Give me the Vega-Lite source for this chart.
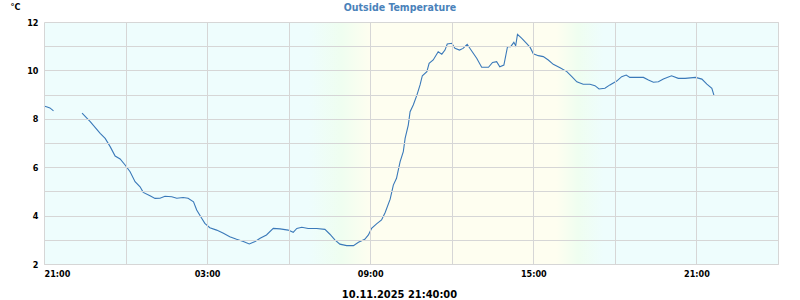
{
  "$schema": "https://vega.github.io/schema/vega-lite/v6.json",
  "autosize": "none",
  "width": 734,
  "height": 242,
  "padding": {"left": 44, "top": 22, "right": 22, "bottom": 36},
  "background": "white",
  "title": {
    "text": "Outside Temperature",
    "color": "#4a82ba",
    "font": "DejaVu Sans Condensed",
    "fontSize": 10.5,
    "fontWeight": "bold",
    "anchor": "middle",
    "offset": 9,
    "dx": -11,
    "dy": 20
  },
  "config": {
    "view": {"stroke": "#d6d6d6", "strokeWidth": 1},
    "axis": {
      "labelFont": "DejaVu Sans Condensed",
      "labelFontWeight": "bold",
      "labelFontSize": 9,
      "labelColor": "#000000",
      "titleFont": "DejaVu Sans Condensed",
      "titleFontWeight": "bold",
      "titleColor": "#000000",
      "gridColor": "#d6d6d6",
      "gridWidth": 1,
      "gridOpacity": 1,
      "domain": false,
      "ticks": false
    }
  },
  "datasets": {
    "span": [
      {"start": "2025-11-09T21:00:00Z", "end": "2025-11-11T00:00:00Z"}
    ],
    "temps": [
      {"t": "2025-11-09T21:00:00Z", "temp": 8.53, "seg": "a"},
      {"t": "2025-11-09T21:07:00Z", "temp": 8.49, "seg": "a"},
      {"t": "2025-11-09T21:13:00Z", "temp": 8.45, "seg": "a"},
      {"t": "2025-11-09T21:21:00Z", "temp": 8.33, "seg": "a"},
      {"t": "2025-11-09T22:24:00Z", "temp": 8.23, "seg": "b"},
      {"t": "2025-11-09T22:42:00Z", "temp": 7.88, "seg": "b"},
      {"t": "2025-11-09T23:04:00Z", "temp": 7.40, "seg": "b"},
      {"t": "2025-11-09T23:15:00Z", "temp": 7.19, "seg": "b"},
      {"t": "2025-11-09T23:26:00Z", "temp": 6.85, "seg": "b"},
      {"t": "2025-11-09T23:37:00Z", "temp": 6.46, "seg": "b"},
      {"t": "2025-11-09T23:48:00Z", "temp": 6.34, "seg": "b"},
      {"t": "2025-11-09T23:59:00Z", "temp": 6.09, "seg": "b"},
      {"t": "2025-11-10T00:10:00Z", "temp": 5.81, "seg": "b"},
      {"t": "2025-11-10T00:21:00Z", "temp": 5.40, "seg": "b"},
      {"t": "2025-11-10T00:32:00Z", "temp": 5.19, "seg": "b"},
      {"t": "2025-11-10T00:39:00Z", "temp": 4.96, "seg": "b"},
      {"t": "2025-11-10T00:54:00Z", "temp": 4.82, "seg": "b"},
      {"t": "2025-11-10T01:05:00Z", "temp": 4.71, "seg": "b"},
      {"t": "2025-11-10T01:16:00Z", "temp": 4.72, "seg": "b"},
      {"t": "2025-11-10T01:27:00Z", "temp": 4.80, "seg": "b"},
      {"t": "2025-11-10T01:42:00Z", "temp": 4.78, "seg": "b"},
      {"t": "2025-11-10T01:53:00Z", "temp": 4.72, "seg": "b"},
      {"t": "2025-11-10T02:07:00Z", "temp": 4.75, "seg": "b"},
      {"t": "2025-11-10T02:18:00Z", "temp": 4.72, "seg": "b"},
      {"t": "2025-11-10T02:30:00Z", "temp": 4.57, "seg": "b"},
      {"t": "2025-11-10T02:37:00Z", "temp": 4.23, "seg": "b"},
      {"t": "2025-11-10T02:48:00Z", "temp": 3.89, "seg": "b"},
      {"t": "2025-11-10T02:55:00Z", "temp": 3.68, "seg": "b"},
      {"t": "2025-11-10T03:06:00Z", "temp": 3.50, "seg": "b"},
      {"t": "2025-11-10T03:21:00Z", "temp": 3.40, "seg": "b"},
      {"t": "2025-11-10T03:36:00Z", "temp": 3.27, "seg": "b"},
      {"t": "2025-11-10T03:50:00Z", "temp": 3.13, "seg": "b"},
      {"t": "2025-11-10T04:05:00Z", "temp": 3.02, "seg": "b"},
      {"t": "2025-11-10T04:20:00Z", "temp": 2.93, "seg": "b"},
      {"t": "2025-11-10T04:33:00Z", "temp": 2.83, "seg": "b"},
      {"t": "2025-11-10T04:46:00Z", "temp": 2.93, "seg": "b"},
      {"t": "2025-11-10T04:57:00Z", "temp": 3.06, "seg": "b"},
      {"t": "2025-11-10T05:11:00Z", "temp": 3.20, "seg": "b"},
      {"t": "2025-11-10T05:26:00Z", "temp": 3.47, "seg": "b"},
      {"t": "2025-11-10T05:41:00Z", "temp": 3.45, "seg": "b"},
      {"t": "2025-11-10T05:59:00Z", "temp": 3.40, "seg": "b"},
      {"t": "2025-11-10T06:10:00Z", "temp": 3.31, "seg": "b"},
      {"t": "2025-11-10T06:18:00Z", "temp": 3.47, "seg": "b"},
      {"t": "2025-11-10T06:29:00Z", "temp": 3.52, "seg": "b"},
      {"t": "2025-11-10T06:43:00Z", "temp": 3.47, "seg": "b"},
      {"t": "2025-11-10T07:02:00Z", "temp": 3.47, "seg": "b"},
      {"t": "2025-11-10T07:20:00Z", "temp": 3.43, "seg": "b"},
      {"t": "2025-11-10T07:31:00Z", "temp": 3.23, "seg": "b"},
      {"t": "2025-11-10T07:42:00Z", "temp": 3.00, "seg": "b"},
      {"t": "2025-11-10T07:53:00Z", "temp": 2.82, "seg": "b"},
      {"t": "2025-11-10T08:08:00Z", "temp": 2.76, "seg": "b"},
      {"t": "2025-11-10T08:23:00Z", "temp": 2.76, "seg": "b"},
      {"t": "2025-11-10T08:34:00Z", "temp": 2.90, "seg": "b"},
      {"t": "2025-11-10T08:48:00Z", "temp": 3.02, "seg": "b"},
      {"t": "2025-11-10T08:56:00Z", "temp": 3.20, "seg": "b"},
      {"t": "2025-11-10T09:03:00Z", "temp": 3.47, "seg": "b"},
      {"t": "2025-11-10T09:14:00Z", "temp": 3.66, "seg": "b"},
      {"t": "2025-11-10T09:25:00Z", "temp": 3.82, "seg": "b"},
      {"t": "2025-11-10T09:33:00Z", "temp": 4.13, "seg": "b"},
      {"t": "2025-11-10T09:44:00Z", "temp": 4.68, "seg": "b"},
      {"t": "2025-11-10T09:51:00Z", "temp": 5.26, "seg": "b"},
      {"t": "2025-11-10T09:58:00Z", "temp": 5.54, "seg": "b"},
      {"t": "2025-11-10T10:06:00Z", "temp": 6.23, "seg": "b"},
      {"t": "2025-11-10T10:13:00Z", "temp": 6.64, "seg": "b"},
      {"t": "2025-11-10T10:17:00Z", "temp": 7.19, "seg": "b"},
      {"t": "2025-11-10T10:24:00Z", "temp": 7.74, "seg": "b"},
      {"t": "2025-11-10T10:28:00Z", "temp": 8.29, "seg": "b"},
      {"t": "2025-11-10T10:35:00Z", "temp": 8.57, "seg": "b"},
      {"t": "2025-11-10T10:43:00Z", "temp": 8.98, "seg": "b"},
      {"t": "2025-11-10T10:50:00Z", "temp": 9.40, "seg": "b"},
      {"t": "2025-11-10T10:55:00Z", "temp": 9.78, "seg": "b"},
      {"t": "2025-11-10T11:05:00Z", "temp": 9.95, "seg": "b"},
      {"t": "2025-11-10T11:10:00Z", "temp": 10.29, "seg": "b"},
      {"t": "2025-11-10T11:19:00Z", "temp": 10.43, "seg": "b"},
      {"t": "2025-11-10T11:30:00Z", "temp": 10.77, "seg": "b"},
      {"t": "2025-11-10T11:38:00Z", "temp": 10.67, "seg": "b"},
      {"t": "2025-11-10T11:45:00Z", "temp": 10.84, "seg": "b"},
      {"t": "2025-11-10T11:50:00Z", "temp": 11.09, "seg": "b"},
      {"t": "2025-11-10T12:00:00Z", "temp": 11.12, "seg": "b"},
      {"t": "2025-11-10T12:07:00Z", "temp": 10.91, "seg": "b"},
      {"t": "2025-11-10T12:17:00Z", "temp": 10.84, "seg": "b"},
      {"t": "2025-11-10T12:25:00Z", "temp": 10.91, "seg": "b"},
      {"t": "2025-11-10T12:34:00Z", "temp": 11.08, "seg": "b"},
      {"t": "2025-11-10T12:44:00Z", "temp": 10.80, "seg": "b"},
      {"t": "2025-11-10T12:55:00Z", "temp": 10.50, "seg": "b"},
      {"t": "2025-11-10T13:06:00Z", "temp": 10.13, "seg": "b"},
      {"t": "2025-11-10T13:21:00Z", "temp": 10.13, "seg": "b"},
      {"t": "2025-11-10T13:30:00Z", "temp": 10.33, "seg": "b"},
      {"t": "2025-11-10T13:39:00Z", "temp": 10.36, "seg": "b"},
      {"t": "2025-11-10T13:46:00Z", "temp": 10.15, "seg": "b"},
      {"t": "2025-11-10T13:55:00Z", "temp": 10.22, "seg": "b"},
      {"t": "2025-11-10T14:03:00Z", "temp": 10.98, "seg": "b"},
      {"t": "2025-11-10T14:10:00Z", "temp": 10.98, "seg": "b"},
      {"t": "2025-11-10T14:17:00Z", "temp": 11.16, "seg": "b"},
      {"t": "2025-11-10T14:21:00Z", "temp": 11.02, "seg": "b"},
      {"t": "2025-11-10T14:25:00Z", "temp": 11.49, "seg": "b"},
      {"t": "2025-11-10T14:34:00Z", "temp": 11.33, "seg": "b"},
      {"t": "2025-11-10T14:45:00Z", "temp": 11.12, "seg": "b"},
      {"t": "2025-11-10T14:53:00Z", "temp": 10.95, "seg": "b"},
      {"t": "2025-11-10T15:00:00Z", "temp": 10.69, "seg": "b"},
      {"t": "2025-11-10T15:11:00Z", "temp": 10.61, "seg": "b"},
      {"t": "2025-11-10T15:22:00Z", "temp": 10.57, "seg": "b"},
      {"t": "2025-11-10T15:33:00Z", "temp": 10.43, "seg": "b"},
      {"t": "2025-11-10T15:44:00Z", "temp": 10.25, "seg": "b"},
      {"t": "2025-11-10T15:59:00Z", "temp": 10.11, "seg": "b"},
      {"t": "2025-11-10T16:14:00Z", "temp": 9.95, "seg": "b"},
      {"t": "2025-11-10T16:25:00Z", "temp": 9.74, "seg": "b"},
      {"t": "2025-11-10T16:36:00Z", "temp": 9.53, "seg": "b"},
      {"t": "2025-11-10T16:50:00Z", "temp": 9.43, "seg": "b"},
      {"t": "2025-11-10T17:05:00Z", "temp": 9.43, "seg": "b"},
      {"t": "2025-11-10T17:16:00Z", "temp": 9.37, "seg": "b"},
      {"t": "2025-11-10T17:25:00Z", "temp": 9.23, "seg": "b"},
      {"t": "2025-11-10T17:38:00Z", "temp": 9.26, "seg": "b"},
      {"t": "2025-11-10T17:49:00Z", "temp": 9.40, "seg": "b"},
      {"t": "2025-11-10T18:04:00Z", "temp": 9.56, "seg": "b"},
      {"t": "2025-11-10T18:15:00Z", "temp": 9.74, "seg": "b"},
      {"t": "2025-11-10T18:25:00Z", "temp": 9.81, "seg": "b"},
      {"t": "2025-11-10T18:33:00Z", "temp": 9.71, "seg": "b"},
      {"t": "2025-11-10T19:03:00Z", "temp": 9.71, "seg": "b"},
      {"t": "2025-11-10T19:14:00Z", "temp": 9.60, "seg": "b"},
      {"t": "2025-11-10T19:25:00Z", "temp": 9.51, "seg": "b"},
      {"t": "2025-11-10T19:36:00Z", "temp": 9.53, "seg": "b"},
      {"t": "2025-11-10T19:47:00Z", "temp": 9.64, "seg": "b"},
      {"t": "2025-11-10T20:05:00Z", "temp": 9.78, "seg": "b"},
      {"t": "2025-11-10T20:20:00Z", "temp": 9.67, "seg": "b"},
      {"t": "2025-11-10T20:35:00Z", "temp": 9.67, "seg": "b"},
      {"t": "2025-11-10T20:58:00Z", "temp": 9.71, "seg": "b"},
      {"t": "2025-11-10T21:12:00Z", "temp": 9.64, "seg": "b"},
      {"t": "2025-11-10T21:23:00Z", "temp": 9.43, "seg": "b"},
      {"t": "2025-11-10T21:34:00Z", "temp": 9.26, "seg": "b"},
      {"t": "2025-11-10T21:39:00Z", "temp": 8.95, "seg": "b"}
    ]
  },
  "layer": [
    {
      "data": {"name": "span"},
      "mark": {
        "type": "rect",
        "color": {
          "gradient": "linear",
          "x1": 0, "y1": 0, "x2": 1, "y2": 0,
          "stops": [
            {"offset": 0, "color": "#eefdfd"},
            {"offset": 0.36, "color": "#eefdfd"},
            {"offset": 0.405, "color": "#effef0"},
            {"offset": 0.445, "color": "#fefef0"},
            {"offset": 0.698, "color": "#fefef0"},
            {"offset": 0.728, "color": "#effef0"},
            {"offset": 0.762, "color": "#eefdfd"},
            {"offset": 1, "color": "#eefdfd"}
          ]
        }
      },
      "encoding": {
        "x": {
          "field": "start",
          "type": "temporal",
          "scale": {
            "type": "utc",
            "domain": [1762722000000, 1762819200000],
            "nice": false
          },
          "axis": {
            "grid": true,
            "zindex": 1,
            "title": "10.11.2025 21:40:00",
            "titleFontSize": 11,
            "titleX": 355,
            "titleY": 33,
            "titleAlign": "center",
            "titleBaseline": "alphabetic",
            "values": [1762722000000, 1762732800000, 1762743600000, 1762754400000, 1762765200000, 1762776000000, 1762786800000, 1762797600000, 1762808400000, 1762819200000],
            "format": "%H:%M",
            "labelExpr": "indexof(['21:00', '03:00', '09:00', '15:00'], datum.label) >= 0 ? datum.label : ''",
            "labelPadding": 5,
            "labelOverlap": false
          }
        },
        "x2": {"field": "end"}
      }
    },
    {
      "data": {"name": "temps"},
      "mark": {"type": "line", "color": "#3a79b9", "strokeWidth": 1.1},
      "encoding": {
        "x": {"field": "t", "type": "temporal"},
        "y": {
          "field": "temp",
          "type": "quantitative",
          "scale": {"domain": [2, 12], "nice": false, "zero": false},
          "axis": {
            "grid": true,
            "zindex": 1,
            "title": "°C",
            "titleFontSize": 9,
            "titleAngle": 0,
            "titleX": -34,
            "titleY": -13,
            "titleAlign": "left",
            "titleBaseline": "alphabetic",
            "values": [2, 3, 4, 5, 6, 7, 8, 9, 10, 11, 12],
            "labelExpr": "datum.value % 2 == 0 ? datum.label : ''",
            "labelPadding": 6
          }
        },
        "detail": {"field": "seg", "type": "nominal"}
      }
    }
  ]
}
